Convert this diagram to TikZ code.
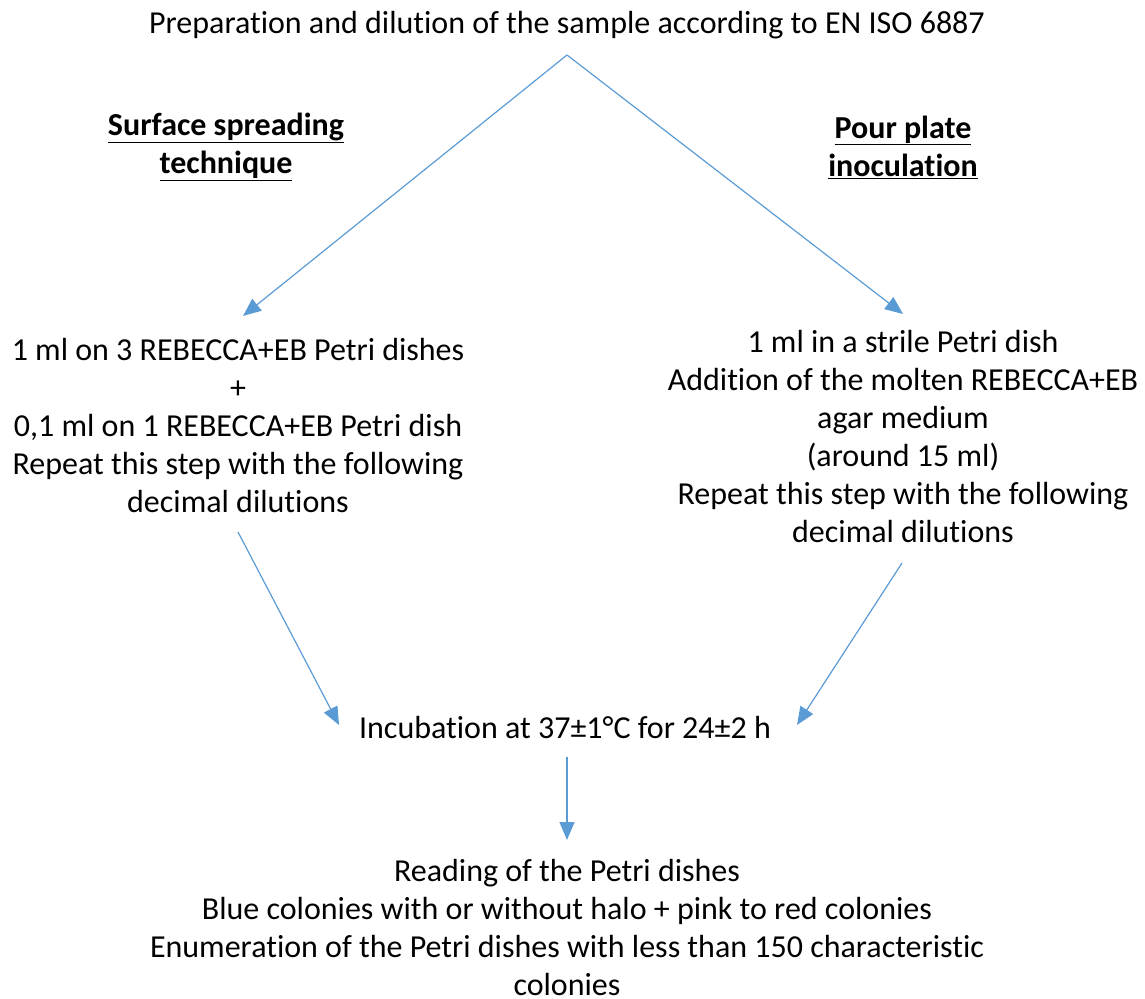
\documentclass[tikz,border=0pt]{standalone}
\usepackage{fontspec}
\setmainfont{Carlito}[Ligatures=NoCommon]
\usetikzlibrary{arrows.meta}
\definecolor{arrowblue}{RGB}{91,155,213}
\tikzset{
  txt/.style={align=center, inner sep=0pt, font=\fontsize{32}{38}\selectfont},
  conn/.style={draw=arrowblue, line width=1.2pt, -{Triangle[length=18pt,width=15pt]}}
}
\begin{document}
\begin{tikzpicture}[x=1pt,y=-1pt]
\useasboundingbox (0,0) rectangle (1145,998);
\node[txt] (top) at (567,25) {Preparation and dilution of the sample according to EN ISO 6887};
\coordinate (apex) at (567,55);
\node[txt] (lhead) at (226,147) {\textbf{\underline{Surface spreading}}\\\textbf{\underline{technique}}};
\node[txt] (rhead) at (903,147) {\textbf{\underline{Pour plate}}\\\textbf{\underline{inoculation}}};
\node[txt] (left) at (238,426) {1 ml on 3 REBECCA+EB Petri dishes\\+\\0,1 ml on 1 REBECCA+EB Petri dish\\Repeat this step with the following\\decimal dilutions};
\node[txt] (right) at (903,437) {1 ml in a strile Petri dish\\Addition of the molten REBECCA+EB\\agar medium\\(around 15 ml)\\Repeat this step with the following\\decimal dilutions};
\node[txt] (inc) at (565,727) {Incubation at 37±1°C for 24±2 h};
\node[txt, anchor=base] (read) at (567,995) {Reading of the Petri dishes\\Blue colonies with or without halo + pink to red colonies\\Enumeration of the Petri dishes with less than 150 characteristic\\colonies};
\coordinate (lin) at (243,316);
\coordinate (rin) at (903,314);
\coordinate (lout) at (238,532);
\coordinate (rout) at (902,563);
\coordinate (incl) at (339,725);
\coordinate (incr) at (797,725);
\coordinate (incb) at (567,757);
\coordinate (readt) at (567,840);
\draw[conn] (apex) -- (lin);
\draw[conn] (apex) -- (rin);
\draw[conn] (lout) -- (incl);
\draw[conn] (rout) -- (incr);
\draw[conn] (incb) -- (readt);
\end{tikzpicture}
\end{document}
